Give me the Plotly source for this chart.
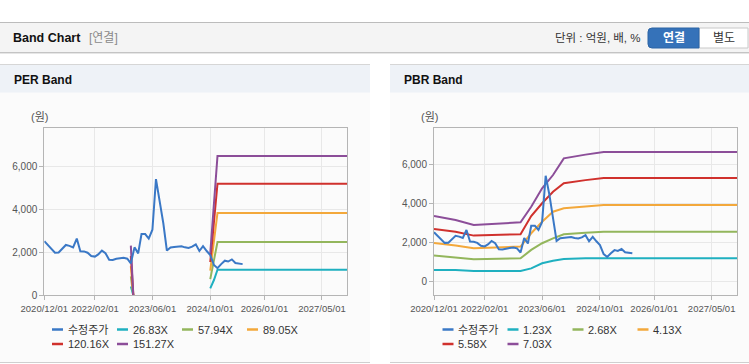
import plotly.graph_objects as go

W, H = 749, 364

# ---------------- data ----------------
price_dates = [f"{y}-{m:02d}-01" for y, m in
               [(2020, 12)] + [(2021, k) for k in range(1, 13)] + [(2022, k) for k in range(1, 13)]
               + [(2023, k) for k in range(1, 13)] + [(2024, k) for k in range(1, 13)] + [(2025, k) for k in range(1, 8)]]
price_values = [2520,
                2330, 2120, 1980, 1990, 2180, 2340, 2300, 2230, 2640, 2050, 2040, 1980,
                1830, 1800, 1900, 2080, 1960, 1650, 1640, 1700, 1720, 1740, 1700, 1490,
                2230, 1950, 2850, 2850, 2640, 3050, 5400, 4450, 3350, 2080, 2220, 2250,
                2250, 2280, 2230, 2200, 2260, 2370, 2060, 2290, 2060, 1870, 1410, 1260,
                1450, 1610, 1570, 1670, 1500, 1460, 1450]

per_band_dates = ["2022-12-01", "2023-01-01", "2023-02-01", "2024-10-01", "2024-11-01", "2024-12-01", "2027-12-01"]
per_26_83 = [410, -195, None, 325, 710, 1190, 1190]
per_57_94 = [885, -420, None, 750, 1600, 2480, 2480]
per_89_05 = [1360, -650, None, 1150, 2500, 3830, 3830]
per_120_16 = [1835, -870, None, 1550, 3350, 5190, 5190]
per_151_27 = [2310, -1100, None, 1950, 4200, 6480, 6480]

pbr_band_dates = ["2020-12-01", "2021-06-01", "2021-11-01", "2022-06-01", "2022-12-01", "2023-03-01",
                  "2023-06-01", "2023-09-01", "2023-12-01", "2024-06-01", "2024-11-01", "2027-12-01"]
pbr_1_23 = [600, 600, 545, 545, 545, 680, 940, 1070, 1160, 1190, 1200, 1200]
pbr_2_68 = [1330, 1240, 1140, 1170, 1190, 1620, 1960, 2210, 2420, 2490, 2550, 2550]
pbr_4_13 = [1975, 1850, 1700, 1750, 1790, 2470, 3060, 3570, 3740, 3830, 3910, 3910]
pbr_5_58 = [2690, 2550, 2350, 2390, 2420, 3350, 4000, 4590, 5020, 5180, 5290, 5290]
pbr_7_03 = [3350, 3150, 2890, 2960, 3030, 3825, 4760, 5440, 6290, 6480, 6620, 6620]

per_names = ["수정주가", "26.83X", "57.94X", "89.05X", "120.16X", "151.27X"]
pbr_names = ["수정주가", "1.23X", "2.68X", "4.13X", "5.58X", "7.03X"]

x_tickvals = ["2020-12-01", "2022-02-01", "2023-06-01", "2024-10-01", "2026-01-01", "2027-05-01"]
x_ticktext = ["2020/12/01", "2022/02/01", "2023/06/01", "2024/10/01", "2026/01/01", "2027/05/01"]
y_tickvals = [0, 2000, 4000, 6000]

colors = ["#3a78c6", "#1fb0c0", "#93b65c", "#f3a83b", "#d0312d", "#8c4e99"]

FONT = "Liberation Sans, Arial, Noto Sans CJK KR, sans-serif"


def px(x):
    return x / W


def py(y):
    return 1 - y / H


fig = go.Figure()

per_series = [per_26_83, per_57_94, per_89_05, per_120_16, per_151_27]
pbr_series = [pbr_1_23, pbr_2_68, pbr_4_13, pbr_5_58, pbr_7_03]

for i, s in enumerate(per_series):
    fig.add_trace(go.Scatter(x=per_band_dates, y=s, mode="lines", name=per_names[i + 1],
                             line=dict(color=colors[i + 1], width=2), xaxis="x", yaxis="y",
                             showlegend=False))
fig.add_trace(go.Scatter(x=price_dates, y=price_values, mode="lines", name=per_names[0],
                         line=dict(color=colors[0], width=2), xaxis="x", yaxis="y", showlegend=False))

for i, s in enumerate(pbr_series):
    fig.add_trace(go.Scatter(x=pbr_band_dates, y=s, mode="lines", name=pbr_names[i + 1],
                             line=dict(color=colors[i + 1], width=2), xaxis="x2", yaxis="y2",
                             showlegend=False))
fig.add_trace(go.Scatter(x=price_dates, y=price_values, mode="lines", name=pbr_names[0],
                         line=dict(color=colors[0], width=2), xaxis="x2", yaxis="y2", showlegend=False))

axis_common = dict(showline=True, linecolor="#b5b5b5", linewidth=1, mirror=True,
                   showgrid=True, gridcolor="#e8e8e8", gridwidth=1, zeroline=False,
                   ticks="outside", ticklen=4, tickcolor="#b5b5b5", automargin=False,
                   tickfont=dict(family=FONT, size=9.5, color="#555555"))

xa = dict(axis_common, type="date", range=["2020-12-01", "2027-12-01"], tickangle=0,
          tickmode="array", tickvals=x_tickvals, ticktext=x_ticktext)
ya = dict(axis_common, tickmode="array", tickvals=y_tickvals, tickformat=",",
          tickfont=dict(family=FONT, size=10, color="#555555"))

per_y0, per_y1 = 128.3, 295.3
fig.update_layout(
    xaxis=dict(xa, domain=[px(44.3), px(347.3)], anchor="y"),
    yaxis=dict(ya, domain=[py(per_y1), py(per_y0)], range=[0, 7766], anchor="x"),
    xaxis2=dict(xa, domain=[px(434), px(737)], anchor="y2"),
    yaxis2=dict(ya, domain=[py(per_y1), py(per_y0)], range=[-694, 7823], anchor="x2"),
)

shapes = []
annotations = []


def rect(x0, y0, x1, y1, fill, line=None):
    shapes.append(dict(type="rect", xref="paper", yref="paper", x0=px(x0), x1=px(x1), y0=py(y1), y1=py(y0),
                       fillcolor=fill, line=dict(width=0) if line is None else line, layer="below"))


def hline(x0, x1, y, color, width=1):
    shapes.append(dict(type="line", xref="paper", yref="paper", x0=px(x0), x1=px(x1), y0=py(y), y1=py(y),
                       line=dict(color=color, width=width), layer="below"))


def text(x, y, t, size=12, color="#333333", bold=False, xanchor="left"):
    annotations.append(dict(xref="paper", yref="paper", x=px(x), y=py(y), text=f"<b>{t}</b>" if bold else t,
                            showarrow=False, xanchor=xanchor, yanchor="middle",
                            font=dict(family=FONT, size=size, color=color)))


# header bar
hline(0, 749, 22.5, "#bcbcbc")
rect(0, 23, 749, 52, "#f4f4f4")
hline(0, 749, 52.5, "#c4c4c4")
hline(0, 749, 53.5, "#e6e6e6")
text(11, 38, "Band Chart", size=12.5, color="#111111", bold=True)
text(87, 38, "[연결]", size=12, color="#8a8a8a")
text(643, 38, "단위 : 억원, 배, %", size=11.5, color="#333333", xanchor="right")
# buttons
rect(699, 28, 748, 48, "#ffffff", line=dict(color="#c8c8c8", width=1))
bx0, bx1, by0, by1, r = 648, 699, 28, 48, 4
shapes.append(dict(type="path", xref="paper", yref="paper", layer="below",
                   path=(f"M{px(bx1)},{py(by0)} L{px(bx0 + r)},{py(by0)} Q{px(bx0)},{py(by0)} {px(bx0)},{py(by0 + r)} "
                         f"L{px(bx0)},{py(by1 - r)} Q{px(bx0)},{py(by1)} {px(bx0 + r)},{py(by1)} L{px(bx1)},{py(by1)} Z"),
                   fillcolor="#3572b9", line=dict(color="#2d64a5", width=1)))
text(673.5, 38, "연결", size=12, color="#ffffff", bold=True, xanchor="center")
text(723.5, 38, "별도", size=12, color="#333333", xanchor="center")

# panels
for (x0, x1, title) in [(0, 370, "PER Band"), (390, 749, "PBR Band")]:
    rect(x0, 64, x1, 363, "#fbfbfb")
    rect(x0, 64, x1, 92.5, "#eef2f7")
    hline(x0, x1, 64.5, "#d6d6d6")
    hline(x0, x1, 362.5, "#cfcfcf")
    text(x0 + 11.5, 80, title, size=12, color="#111111", bold=True)

# axis unit labels
text(39.5, 117, "(원)", size=11, color="#555555", xanchor="center")
text(429.5, 117, "(원)", size=11, color="#555555", xanchor="center")

# legends
for off, names in [(0, per_names), (390.5, pbr_names)]:
    for i, name in enumerate(names):
        row, col = divmod(i, 4)
        lx = off + 52 + col * 65
        ly = 329.5 + row * 14.5
        shapes.append(dict(type="line", xref="paper", yref="paper", x0=px(lx), x1=px(lx + 11),
                           y0=py(ly), y1=py(ly), line=dict(color=colors[i], width=2.5)))
        text(lx + 13.5, ly, name, size=11, color="#333333")

fig.update_layout(shapes=shapes, annotations=annotations,
                  width=W, height=H, autosize=False,
                  margin=dict(l=0, r=0, t=0, b=0, pad=0, autoexpand=False),
                  paper_bgcolor="#ffffff", plot_bgcolor="rgba(0,0,0,0)",
                  showlegend=False, font=dict(family=FONT))

fig.write_html("out.html", config={"displayModeBar": False},
               post_script="document.body.style.margin='0px';document.body.style.overflow='hidden';")
